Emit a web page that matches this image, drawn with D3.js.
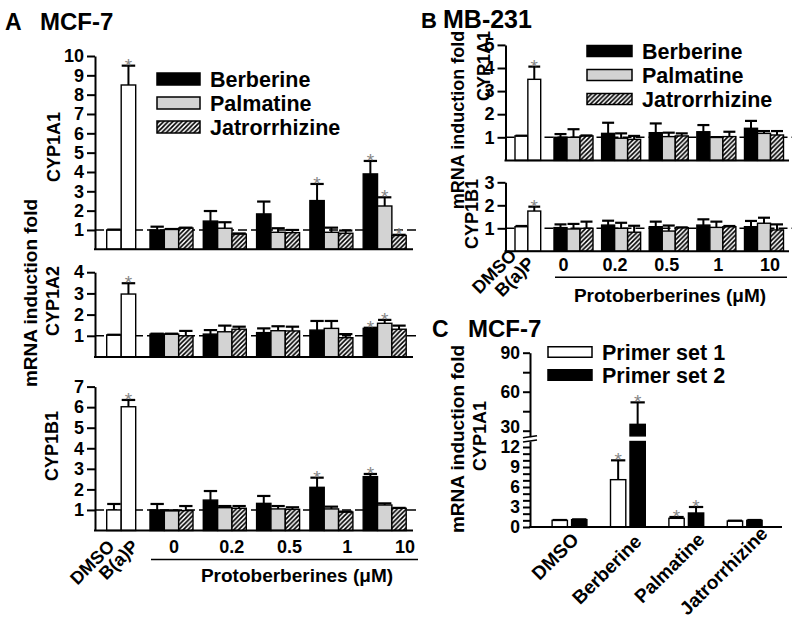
<!DOCTYPE html>
<html><head><meta charset="utf-8">
<script src="https://cdn.jsdelivr.net/npm/d3@7"></script>
<style>
body{margin:0;background:#fff}
text{font-family:'Liberation Sans',Arial,Helvetica,sans-serif;font-weight:bold;fill:#000}
</style>
</head><body><svg id="c" width="799" height="621"></svg>
<script>
// ---------- DATA ----------
const controls = ["DMSO", "B(a)P"];
const concentrations = ["0", "0.2", "0.5", "1", "10"];
const compounds = ["Berberine", "Palmatine", "Jatrorrhizine"];
const primerSets = ["Primer set 1", "Primer set 2"];
const treatmentsC = ["DMSO", "Berberine", "Palmatine", "Jatrorrhizine"];

// Panel A (MCF-7) CYP1A1
const a1a1CtrlVal = [1.0, 8.5], a1a1CtrlErr = [0.02, 1.0], a1a1CtrlSig = [0, 1];
const a1a1Val = [[1.0, 1.46, 1.83, 2.52, 3.9], [1.03, 1.09, 0.88, 0.88, 2.24], [1.1, 0.79, 0.86, 0.83, 0.72]];
const a1a1Err = [[0.17, 0.52, 0.64, 0.86, 0.67], [0.02, 0.31, 0.21, 0.24, 0.45], [0.02, 0.03, 0.14, 0.14, 0.03]];
const a1a1Sig = [[0, 0, 0, 1, 1], [0, 0, 0, 0, 1], [0, 0, 0, 0, 1]];
// Panel A CYP1A2
const a1a2CtrlVal = [1.04, 2.97], a1a2CtrlErr = [0.01, 0.51], a1a2CtrlSig = [0, 1];
const a1a2Val = [[1.08, 1.08, 1.15, 1.27, 1.35], [1.08, 1.19, 1.24, 1.35, 1.59], [1.0, 1.31, 1.23, 0.91, 1.31]];
const a1a2Err = [[0.02, 0.19, 0.2, 0.43, 0.03], [0.02, 0.29, 0.21, 0.35, 0.16], [0.23, 0.12, 0.2, 0.17, 0.17]];
const a1a2Sig = [[0, 0, 0, 0, 1], [0, 0, 0, 0, 1], [0, 0, 0, 0, 0]];
// Panel A CYP1B1
const a1b1CtrlVal = [1.0, 6.02], a1b1CtrlErr = [0.29, 0.33], a1b1CtrlSig = [0, 1];
const a1b1Val = [[1.0, 1.48, 1.32, 2.1, 2.62], [0.97, 1.11, 1.05, 1.05, 1.24], [0.97, 1.08, 1.03, 0.9, 1.08]];
const a1b1Err = [[0.29, 0.44, 0.36, 0.47, 0.13], [0.01, 0.08, 0.14, 0.11, 0.08], [0.22, 0.11, 0.1, 0.02, 0.02]];
const a1b1Sig = [[0, 0, 0, 1, 1], [0, 0, 0, 0, 0], [0, 0, 0, 0, 0]];
// Panel B (MB-231) CYP1A1
const b1a1CtrlVal = [1.06, 3.51], b1a1CtrlErr = [0.01, 0.55], b1a1CtrlSig = [0, 1];
const b1a1Val = [[1.0, 1.17, 1.2, 1.24, 1.39], [1.0, 0.96, 1.03, 1.0, 1.17], [1.06, 0.91, 1.06, 1.03, 1.1]];
const b1a1Err = [[0.14, 0.46, 0.4, 0.29, 0.32], [0.35, 0.21, 0.17, 0.01, 0.1], [0.02, 0.15, 0.11, 0.21, 0.17]];
const b1a1Sig = [[0, 0, 0, 0, 0], [0, 0, 0, 0, 0], [0, 0, 0, 0, 0]];
// Panel B CYP1B1
const b1b1CtrlVal = [1.07, 1.75], b1b1CtrlErr = [0.03, 0.19], b1b1CtrlSig = [0, 1];
const b1b1Val = [[1.03, 1.14, 1.07, 1.14, 1.07], [0.97, 1.0, 0.88, 1.04, 1.22], [1.0, 0.83, 1.03, 1.07, 0.93]];
const b1b1Err = [[0.14, 0.19, 0.22, 0.25, 0.25], [0.22, 0.24, 0.24, 0.25, 0.24], [0.29, 0.28, 0.01, 0.03, 0.24]];
const b1b1Sig = [[0, 0, 0, 0, 0], [0, 0, 0, 0, 0], [0, 0, 0, 0, 0]];
// Panel C (MCF-7) CYP1A1, two primer sets
const cSet1Val = [1.0, 7.1, 1.3, 0.9], cSet1Err = [0.05, 2.9, 0.2, 0.05], cSet1Sig = [0, 1, 1, 0];
const cSet2Val = [1.1, 34.9, 2.1, 1.0], cSet2Err = [0.05, 16.9, 0.9, 0.05], cSet2Sig = [0, 1, 1, 0];
// tick labels
const cUpperTickLabels = [30, 60, 90];
const cLowerTickLabels = [0, 3, 6, 9, 12];

// ---------- DRAWING ----------
const FF = "'Liberation Sans',Arial,Helvetica,sans-serif";
const svg = d3.select("#c");
const GRAY = "#d3d3d3";
const defs = svg.append("defs");
const pat = defs.append("pattern").attr("id", "hatch").attr("patternUnits", "userSpaceOnUse")
  .attr("width", 4.6).attr("height", 4.6);
pat.append("rect").attr("width", 4.6).attr("height", 4.6).attr("fill", "#fff");
pat.append("path").attr("d", "M-1,1 L1,-1 M0,4.6 L4.6,0 M3.6,5.6 L5.6,3.6")
  .attr("stroke", "#000").attr("stroke-width", 1.7);
const fills = ["#000", GRAY, "url(#hatch)"];

function txt(g, x, y, s, size, opts = {}) {
  const t = g.append("text").attr("x", x).attr("y", y).text(s).style("font-size", size + "px");
  if (opts.anchor) t.attr("text-anchor", opts.anchor);
  if (opts.dy) t.attr("dy", opts.dy);
  if (opts.rot !== undefined) t.attr("transform", `rotate(${opts.rot},${x},${y})`);
  return t;
}
function star(g, cx, yTop) {
  g.append("text").attr("x", cx).attr("y", yTop + 6).text("*").attr("text-anchor", "middle")
    .style("font-size", "19px").style("font-weight", "normal").style("fill", "#858585");
}
function styleAxis(ga, size) {
  ga.selectAll("path,line").attr("stroke", "#000").attr("stroke-width", 2);
  ga.selectAll("text").style("font-size", size + "px").style("font-family", FF)
    .style("font-weight", "bold").attr("fill", "#000");
}

function drawSub(o) {
  const g = svg.append("g");
  const y = o.y, y0 = y(0);
  g.append("line").attr("x1", o.axisX).attr("x2", o.dashEnd).attr("y1", y(1)).attr("y2", y(1))
    .attr("stroke", "#000").attr("stroke-width", 1.6).attr("stroke-dasharray", "9,4");
  const marks = [];
  controls.forEach((c, i) => marks.push({ x: o.ctrlX(c), w: o.ctrlX.bandwidth(), v: o.ctrlV[i], e: o.ctrlE[i], s: o.ctrlS[i], fill: "#fff" }));
  compounds.forEach((s, j) => concentrations.forEach((c, k) => marks.push({
    x: o.grpX(c) + o.serX(s), w: o.serX.bandwidth(), v: o.vals[j][k], e: o.errs[j][k], s: o.sigs[j][k], fill: fills[j]
  })));
  marks.forEach(m => {
    g.append("rect").attr("x", m.x).attr("y", y(m.v)).attr("width", m.w).attr("height", y0 - y(m.v))
      .attr("fill", m.fill).attr("stroke", "#000").attr("stroke-width", 1.4);
  });
  marks.forEach(m => {
    const cx = m.x + m.w / 2, yt = y(m.v + m.e);
    g.append("line").attr("x1", cx).attr("x2", cx).attr("y1", y(m.v)).attr("y2", yt).attr("stroke", "#000").attr("stroke-width", 2);
    g.append("line").attr("x1", cx - m.w / 2 + 0.5).attr("x2", cx + m.w / 2 - 0.5).attr("y1", yt).attr("y2", yt).attr("stroke", "#000").attr("stroke-width", 2.2);
    if (m.s) star(g, cx, yt);
  });
  const ax = d3.axisLeft(y).tickValues(o.ticks).tickFormat(d3.format("d")).tickSize(8).tickSizeOuter(0).tickPadding(3);
  const ga = g.append("g").attr("transform", `translate(${o.axisX},0)`).call(ax);
  styleAxis(ga, 18);
  g.append("line").attr("x1", o.axisX - 1).attr("x2", o.baseEnd).attr("y1", y0).attr("y2", y0)
    .attr("stroke", "#000").attr("stroke-width", 2);
}

function legend(g, x, w, h, ys, textX, labels, fillList) {
  labels.forEach((l, i) => {
    g.append("rect").attr("x", x).attr("y", ys[i] - h / 2).attr("width", w).attr("height", h)
      .attr("fill", fillList[i]).attr("stroke", "#000").attr("stroke-width", 1.5);
    txt(g, textX, ys[i], l, 21.5, { dy: "0.36em" });
  });
}

// ---- Panel A ----
const aCtrlX = d3.scaleBand().domain(controls).range([106.7, 135.7]);
const aGrpX = d3.scalePoint().domain(concentrations).range([171.5, 384.7]);
const aSerX = d3.scaleBand().domain(compounds).range([-21.5, 21.5]);
const aCommon = { axisX: 95, baseEnd: 413, dashEnd: 416, ctrlX: aCtrlX, grpX: aGrpX, serX: aSerX };
drawSub(Object.assign({}, aCommon, { y: d3.scaleLinear().domain([0, 10]).range([249.3, 56]), ticks: d3.range(1, 11),
  ctrlV: a1a1CtrlVal, ctrlE: a1a1CtrlErr, ctrlS: a1a1CtrlSig, vals: a1a1Val, errs: a1a1Err, sigs: a1a1Sig }));
drawSub(Object.assign({}, aCommon, { y: d3.scaleLinear().domain([0, 4]).range([357, 272.2]), ticks: d3.range(1, 5),
  ctrlV: a1a2CtrlVal, ctrlE: a1a2CtrlErr, ctrlS: a1a2CtrlSig, vals: a1a2Val, errs: a1a2Err, sigs: a1a2Sig }));
drawSub(Object.assign({}, aCommon, { y: d3.scaleLinear().domain([0, 7]).range([530.5, 386.6]), ticks: d3.range(1, 8),
  ctrlV: a1b1CtrlVal, ctrlE: a1b1CtrlErr, ctrlS: a1b1CtrlSig, vals: a1b1Val, errs: a1b1Err, sigs: a1b1Sig }));

const gA = svg.append("g");
txt(gA, 5, 30, "A", 23); txt(gA, 40, 30, "MCF-7", 24);
legend(gA, 157, 43, 12, [79, 103, 127], 210, compounds, fills);
txt(gA, 54, 147, "CYP1A1", 18, { anchor: "middle", dy: "0.36em", rot: -90 });
txt(gA, 53, 301, "CYP1A2", 18, { anchor: "middle", dy: "0.36em", rot: -90 });
txt(gA, 52, 446, "CYP1B1", 18, { anchor: "middle", dy: "0.36em", rot: -90 });
txt(gA, 30, 293, "mRNA induction fold", 19, { anchor: "middle", dy: "0.36em", rot: -90 });
const aLabX = d3.scalePoint().domain(concentrations).range([174, 405]);
concentrations.forEach(c => txt(gA, aLabX(c), 547, c, 18, { anchor: "middle", dy: "0.36em" }));
const aCtrlLab = d3.scalePoint().domain(controls).range([111, 135]);
controls.forEach(c => txt(gA, aCtrlLab(c), 543, c, 18, { anchor: "end", dy: "0.36em", rot: -45 }));
gA.append("line").attr("x1", 151).attr("x2", 418).attr("y1", 559.5).attr("y2", 559.5).attr("stroke", "#000").attr("stroke-width", 1.6);
txt(gA, 297, 575, "Protoberberines (\u03bcM)", 19, { anchor: "middle", dy: "0.36em" });

// ---- Panel B ----
const bCtrlX = d3.scaleBand().domain(controls).range([515, 540.7]);
const bGrpX = d3.scalePoint().domain(concentrations).range([573.5, 764]);
const bSerX = d3.scaleBand().domain(compounds).range([-19.5, 19.5]);
const bCommon = { axisX: 505.5, baseEnd: 789, dashEnd: 792, ctrlX: bCtrlX, grpX: bGrpX, serX: bSerX };
drawSub(Object.assign({}, bCommon, { y: d3.scaleLinear().domain([0, 5]).range([160.4, 44.9]), ticks: d3.range(1, 6),
  ctrlV: b1a1CtrlVal, ctrlE: b1a1CtrlErr, ctrlS: b1a1CtrlSig, vals: b1a1Val, errs: b1a1Err, sigs: b1a1Sig }));
drawSub(Object.assign({}, bCommon, { y: d3.scaleLinear().domain([0, 3]).range([251.3, 182.3]), ticks: d3.range(1, 4),
  ctrlV: b1b1CtrlVal, ctrlE: b1b1CtrlErr, ctrlS: b1b1CtrlSig, vals: b1b1Val, errs: b1b1Err, sigs: b1b1Sig }));

const gB = svg.append("g");
txt(gB, 421, 28, "B", 22); txt(gB, 443, 28, "MB-231", 25);
legend(gB, 587, 45, 11, [51, 75, 99], 642, compounds, fills);
txt(gB, 484, 66, "CYP1A1", 18, { anchor: "middle", dy: "0.36em", rot: -90 });
txt(gB, 472, 214, "CYP1B1", 18, { anchor: "middle", dy: "0.36em", rot: -90 });
txt(gB, 458, 120, "mRNA induction fold", 18, { anchor: "middle", dy: "0.36em", rot: -90 });
const bLabX = d3.scalePoint().domain(concentrations).range([563.5, 770]);
concentrations.forEach(c => txt(gB, bLabX(c), 265, c, 18, { anchor: "middle", dy: "0.36em" }));
const bCtrlLab = d3.scalePoint().domain(controls).range([513, 531]);
const bCtrlLabY = [252, 260];
controls.forEach((c, i) => txt(gB, bCtrlLab(c), bCtrlLabY[i], c, 18, { anchor: "end", dy: "0.36em", rot: -45 }));
gB.append("line").attr("x1", 555).attr("x2", 787).attr("y1", 277.3).attr("y2", 277.3).attr("stroke", "#000").attr("stroke-width", 1.6);
txt(gB, 670, 295, "Protoberberines (\u03bcM)", 19, { anchor: "middle", dy: "0.36em" });

// ---- Panel C ----
const gC = svg.append("g");
const cAxisX = 530;
const LOW_TOP = 12.9, UP_BOT = 25.4;
const yU = d3.scaleLinear().domain([UP_BOT, 90]).range([436.7, 352.7]);
const yL = d3.scaleLinear().domain([0, LOW_TOP]).range([527, 441]);
const cGrpX = d3.scalePoint().domain(treatmentsC).range([569.5, 744.7]);
const cSetX = d3.scaleBand().domain(primerSets).range([-17.4, 17.4]).paddingInner(0.215);
const cVals = [cSet1Val, cSet2Val], cErrs = [cSet1Err, cSet2Err], cSigs = [cSet1Sig, cSet2Sig];
const cFills = ["#fff", "#000"];
const yC = v => v <= LOW_TOP ? yL(v) : yU(v);
primerSets.forEach((p, j) => treatmentsC.forEach((t, k) => {
  const x = cGrpX(t) + cSetX(p), w = cSetX.bandwidth(), v = cVals[j][k];
  if (v <= LOW_TOP) {
    gC.append("rect").attr("x", x).attr("y", yL(v)).attr("width", w).attr("height", yL(0) - yL(v))
      .attr("fill", cFills[j]).attr("stroke", "#000").attr("stroke-width", 1.4);
  } else {
    gC.append("rect").attr("x", x).attr("y", yL(LOW_TOP) + 0.5).attr("width", w).attr("height", yL(0) - yL(LOW_TOP) - 0.5)
      .attr("fill", cFills[j]).attr("stroke", "#000").attr("stroke-width", 1.4);
    gC.append("rect").attr("x", x).attr("y", yU(v)).attr("width", w).attr("height", yU(UP_BOT) - yU(v) - 0.8)
      .attr("fill", cFills[j]).attr("stroke", "#000").attr("stroke-width", 1.4);
  }
}));
primerSets.forEach((p, j) => treatmentsC.forEach((t, k) => {
  const w = cSetX.bandwidth(), cx = cGrpX(t) + cSetX(p) + w / 2, v = cVals[j][k], yt = yC(v + cErrs[j][k]);
  gC.append("line").attr("x1", cx).attr("x2", cx).attr("y1", yC(v)).attr("y2", yt).attr("stroke", "#000").attr("stroke-width", 2);
  gC.append("line").attr("x1", cx - w / 2 + 0.5).attr("x2", cx + w / 2 - 0.5).attr("y1", yt).attr("y2", yt).attr("stroke", "#000").attr("stroke-width", 2.2);
  if (cSigs[j][k]) star(gC, cx, yt);
}));
const gaU = gC.append("g").attr("transform", `translate(${cAxisX},0)`)
  .call(d3.axisLeft(yU).tickValues([30, 45, 60, 75, 90]).tickFormat(d => cUpperTickLabels.includes(d) ? d : "")
    .tickSize(7).tickSizeOuter(0).tickPadding(3));
styleAxis(gaU, 17.5);
gaU.selectAll(".tick text").filter(d => d === 30).attr("dy", "0.1em");
const gaL = gC.append("g").attr("transform", `translate(${cAxisX},0)`)
  .call(d3.axisLeft(yL).tickValues(d3.range(0, 13)).tickFormat(d => cLowerTickLabels.includes(d) ? d : "")
    .tickSize(7).tickSizeOuter(0).tickPadding(3));
styleAxis(gaL, 17.5);
[yU(UP_BOT), yL(LOW_TOP)].forEach(yy => gC.append("line").attr("x1", cAxisX - 7).attr("x2", cAxisX + 7)
  .attr("y1", yy + 1).attr("y2", yy - 1).attr("stroke", "#000").attr("stroke-width", 1.6));
gC.append("line").attr("x1", cAxisX - 1).attr("x2", 782).attr("y1", yL(0)).attr("y2", yL(0)).attr("stroke", "#000").attr("stroke-width", 2);
txt(gC, 432, 337, "C", 23); txt(gC, 468, 337, "MCF-7", 24);
legend(gC, 548, 44, 10.5, [352, 375], 602, primerSets, cFills);
txt(gC, 480, 436, "CYP1A1", 18, { anchor: "middle", dy: "0.36em", rot: -90 });
txt(gC, 457, 439, "mRNA induction fold", 19, { anchor: "middle", dy: "0.36em", rot: -90 });
const cLabX = d3.scalePoint().domain(treatmentsC).range([575, 764]);
const cLabY = [536, 538, 536, 530];
treatmentsC.forEach((t, i) => txt(gC, cLabX(t), cLabY[i], t, 19, { anchor: "end", dy: "0.36em", rot: -45 }));
</script></body></html>
